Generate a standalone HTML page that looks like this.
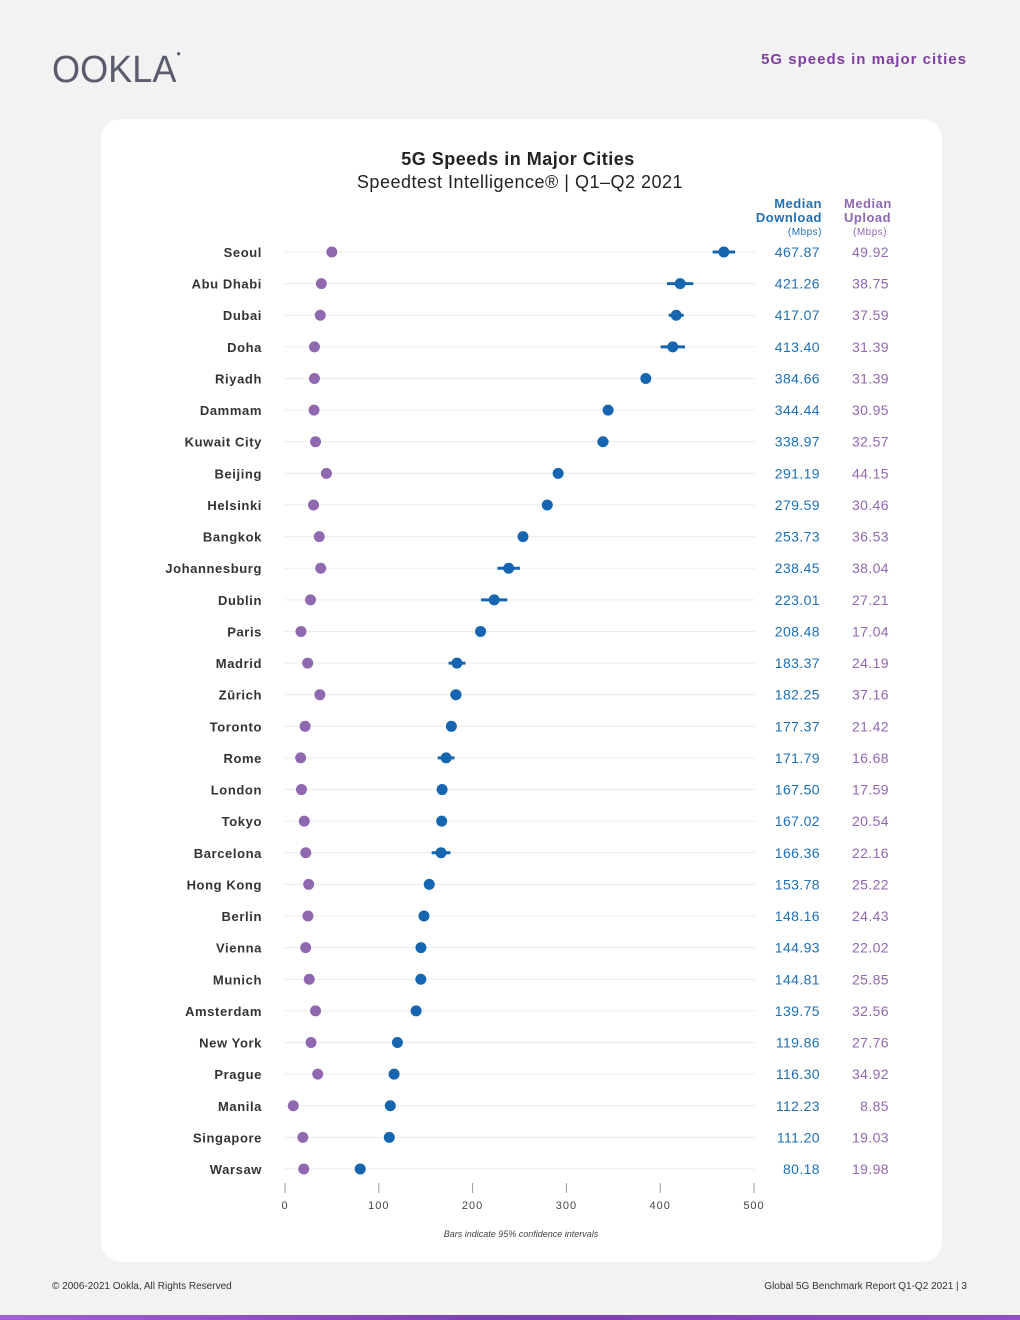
<!DOCTYPE html>
<html><head><meta charset="utf-8"><style>
body{margin:0;width:1020px;height:1320px;background:#f2f2f2;font-family:"Liberation Sans",sans-serif;position:relative;overflow:hidden}
.abs{position:absolute}
</style></head><body>
<div class="abs" style="left:52px;top:49px;font-size:38px;color:#5a5c6e;letter-spacing:0px;transform:scaleX(0.95);transform-origin:left">OOKLA<span style="font-size:8px;vertical-align:top">●</span></div>
<div class="abs" style="right:53px;top:51px;font-size:15px;font-weight:bold;color:#7e3fa0;letter-spacing:1px">5G speeds in major cities</div>
<div class="abs" style="left:101px;top:119px;width:841px;height:1143px;background:#fff;border-radius:20px"></div>
<svg class="abs" style="left:0;top:0" width="1020" height="1320" id="chart">
<text x="518" y="165" text-anchor="middle" font-size="18" font-weight="bold" fill="#222" letter-spacing="0.5">5G Speeds in Major Cities</text>
<text x="520" y="188" text-anchor="middle" font-size="18" fill="#222" letter-spacing="0.5">Speedtest Intelligence® | Q1–Q2 2021</text>
<g font-size="13" font-weight="bold" text-anchor="end" fill="#1f6fb5" letter-spacing="0.5"><text x="822" y="208">Median</text><text x="822" y="222">Download</text><text x="822" y="235" font-size="10" font-weight="normal">(Mbps)</text></g>
<g font-size="13" font-weight="bold" text-anchor="start" fill="#8f6ab0" letter-spacing="0.5"><text x="844" y="208">Median</text><text x="844" y="222">Upload</text><text x="853" y="235" font-size="10" font-weight="normal">(Mbps)</text></g>
<g id="rows"></g>
<g id="axis"></g>
<text x="521" y="1237" text-anchor="middle" font-size="9" font-style="italic" fill="#444">Bars indicate 95% confidence intervals</text>
</svg>
<div class="abs" style="left:52px;top:1281px;font-size:10px;color:#333">© 2006-2021 Ookla, All Rights Reserved</div>
<div class="abs" style="right:53px;top:1281px;font-size:10px;color:#333">Global 5G Benchmark Report Q1-Q2 2021 | 3</div>
<div class="abs" style="left:0;top:1315px;width:1020px;height:5px;background:linear-gradient(90deg,#a060d8,#7a3fb0,#8e4fc8)"></div>
<script>
const cities=["Seoul","Abu Dhabi","Dubai","Doha","Riyadh","Dammam","Kuwait City","Beijing","Helsinki","Bangkok","Johannesburg","Dublin","Paris","Madrid","Zūrich","Toronto","Rome","London","Tokyo","Barcelona","Hong Kong","Berlin","Vienna","Munich","Amsterdam","New York","Prague","Manila","Singapore","Warsaw"];
const download=[467.87,421.26,417.07,413.40,384.66,344.44,338.97,291.19,279.59,253.73,238.45,223.01,208.48,183.37,182.25,177.37,171.79,167.50,167.02,166.36,153.78,148.16,144.93,144.81,139.75,119.86,116.30,112.23,111.20,80.18];
const upload=[49.92,38.75,37.59,31.39,31.39,30.95,32.57,44.15,30.46,36.53,38.04,27.21,17.04,24.19,37.16,21.42,16.68,17.59,20.54,22.16,25.22,24.43,22.02,25.85,32.56,27.76,34.92,8.85,19.03,19.98];
const ciHalf=[12,14,8,13,0,5,6,0,0,0,12,14,4,9,6,3,9,0,0,10,2,2,2,2,2,2,2,2,2,0];
const ticks=[0,100,200,300,400,500];
const NS="http://www.w3.org/2000/svg";
const x=v=>285+v*(754-285)/500;
const y=i=>252+i*(1169-252)/29;
function mk(t,a,p){const e=document.createElementNS(NS,t);for(const k in a)e.setAttribute(k,a[k]);p.appendChild(e);return e;}
const rows=document.getElementById('rows');
cities.forEach((c,i)=>{
  const g=mk('g',{},rows);
  
  
  const yy=y(i);
  const gl=mk('line',{x1:284,x2:755,y1:yy,y2:yy,stroke:'#ececec','stroke-width':1},g);
  
  
  const lt=mk('text',{x:262,y:yy+5,'text-anchor':'end','font-size':13,'font-weight':'bold',fill:'#333','letter-spacing':0.6},g);lt.textContent=c;
  
  
  const up=mk('circle',{cx:x(upload[i]),cy:yy,r:5.5,fill:'#9068b0'},g);
  
  
  if(ciHalf[i]>0){const e=mk('line',{x1:x(download[i]-ciHalf[i]),x2:x(download[i]+ciHalf[i]),y1:yy,y2:yy,stroke:'#1565b0','stroke-width':3},g);
  
  }
  const dn=mk('circle',{cx:x(download[i]),cy:yy,r:5.5,fill:'#1565b0'},g);
  
  
  const dt=mk('text',{x:820,y:yy+5,'text-anchor':'end','font-size':14,fill:'#1f6fb5','letter-spacing':0.4},g);dt.textContent=download[i].toFixed(2);
  
  
  const ut=mk('text',{x:889,y:yy+5,'text-anchor':'end','font-size':14,fill:'#9068b0','letter-spacing':0.4},g);ut.textContent=upload[i].toFixed(2);
  
  
});
const ax=document.getElementById('axis');
ticks.forEach(t=>{
  const l=mk('line',{x1:x(t),x2:x(t),y1:1183,y2:1193,stroke:'#999'},ax);
  
  
  const tx=mk('text',{x:x(t),y:1209,'text-anchor':'middle','font-size':11,fill:'#444','letter-spacing':1},ax);tx.textContent=t;
  
  
});
</script>
</body></html>
